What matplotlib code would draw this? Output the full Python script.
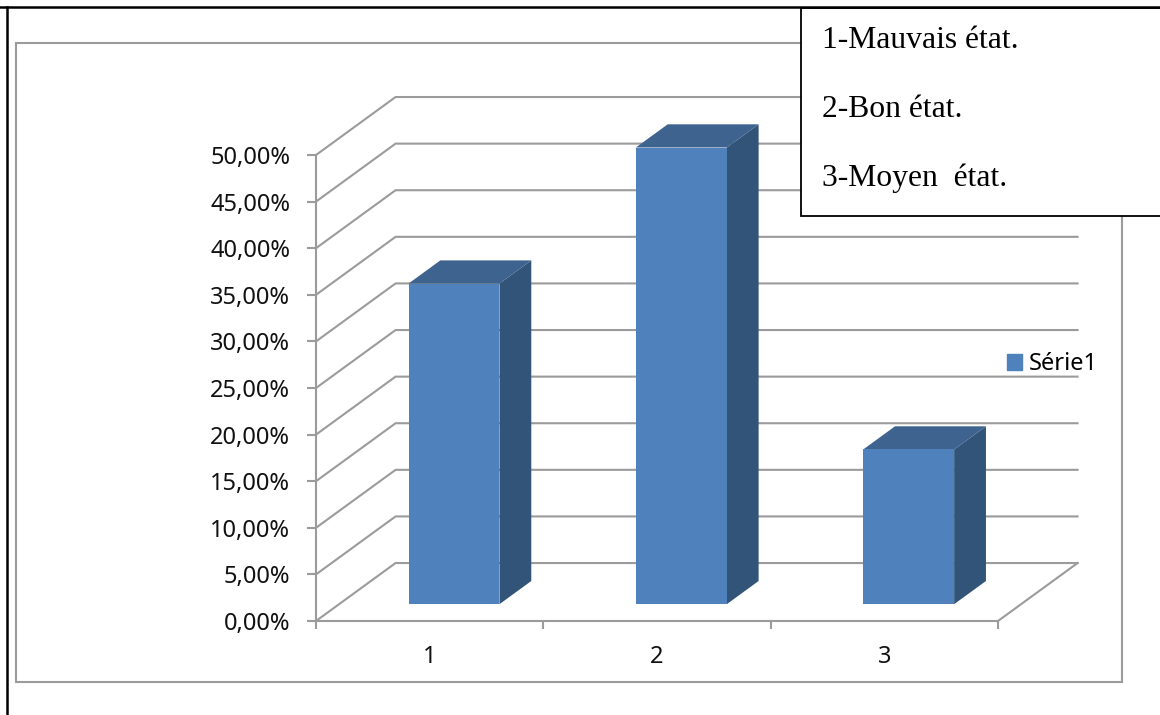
import matplotlib
matplotlib.use("Agg")
import matplotlib.pyplot as plt
from matplotlib.patches import Polygon, Rectangle

W, H = 1160, 715
categories = ["1", "2", "3"]
values = [34.4, 49.0, 16.6]
y_ticks = [0, 5, 10, 15, 20, 25, 30, 35, 40, 45, 50]
y_labels = ["0,00%", "5,00%", "10,00%", "15,00%", "20,00%", "25,00%",
            "30,00%", "35,00%", "40,00%", "45,00%", "50,00%"]
x_positions = [1, 2, 3]
series_name = "Série1"
notes = ["1-Mauvais état.", "2-Bon état.", "3-Moyen  état."]

GRID = "#9b9b9b"
FRONT = "#4f81bd"
SIDE = "#325479"
TOP = "#3e638f"
LW = 1.5

# depth of the fake 3d floor, in data units
DX, DY = 0.35, 6.22
BAR_FRONT, BAR_BACK = 0.29, 0.69
BAR_SHIFT = 0.107
BAR_W = 0.4


def px_box(x0, y0, x1, y1, **kw):
    # rectangle given in image pixels, y going down
    return Rectangle((x0 / W, 1 - y1 / H), (x1 - x0) / W, (y1 - y0) / H,
                     transform=fig.transFigure, **kw)


plt.rcParams["font.family"] = ["Noto Sans", "DejaVu Sans"]
fig = plt.figure(figsize=(W / 100, H / 100), dpi=100)
ax = fig.add_axes([316 / W, 1 - 621 / H, 682 / W, 466 / H])
ax.patch.set_visible(False)
ax.set_xlim(0.5, 3.5)
ax.set_ylim(0, 50)

# walls: each gridline runs back along the side, then along the back wall
xmin, xmax = ax.get_xlim()
for v in y_ticks:
    ax.plot([xmin, xmin + DX, xmax + DX], [v, v + DY, v + DY], color=GRID,
            lw=LW, clip_on=False, zorder=1, solid_joinstyle="miter")
ax.plot([xmax, xmax + DX], [0, DY], color=GRID, lw=LW, clip_on=False, zorder=1)

# bars
for x, v in zip(x_positions, values):
    x0 = x - BAR_W / 2 + BAR_SHIFT
    x1 = x + BAR_W / 2 + BAR_SHIFT
    base = BAR_FRONT * DY
    ox = (BAR_BACK - BAR_FRONT) * DX
    oy = (BAR_BACK - BAR_FRONT) * DY
    ax.add_patch(Polygon([(x1, base), (x1 + ox, base + oy), (x1 + ox, base + v + oy),
                          (x1, base + v)], color=SIDE, lw=0, clip_on=False, zorder=3))
    ax.add_patch(Polygon([(x0, base + v), (x1, base + v), (x1 + ox, base + v + oy),
                          (x0 + ox, base + v + oy)], color=TOP, lw=0, clip_on=False, zorder=3))
    ax.bar(x + BAR_SHIFT, v, width=BAR_W, bottom=base, color=FRONT,
           clip_on=False, zorder=4)

for side in ["top", "right"]:
    ax.spines[side].set_visible(False)
for side in ["left", "bottom"]:
    ax.spines[side].set_color(GRID)
    ax.spines[side].set_linewidth(LW)

ax.set_yticks(y_ticks, y_labels)
ax.set_xticks([0.5, 1.5, 2.5, 3.5], [])
ax.set_xticks(x_positions, categories, minor=True)
ax.tick_params(axis="y", length=6.5, width=LW, color=GRID, pad=12, labelsize=17,
               labelcolor="#111111")
ax.tick_params(axis="x", which="major", length=5.5, width=LW, color=GRID)
ax.tick_params(axis="x", which="minor", length=0, pad=17, labelsize=17,
               labelcolor="#111111")

handle = Rectangle((0, 0), 1, 1, color=FRONT)
ax.legend([handle], [series_name], loc="center left", frameon=False, fontsize=17,
          bbox_to_anchor=(1002 / W, 1 - 364 / H), bbox_transform=fig.transFigure,
          handlelength=0.64, handleheight=0.64, handletextpad=0.28,
          borderpad=0.2, borderaxespad=0)

# outer frames and the pasted note box
fig.add_artist(px_box(16, 43, 1122, 682, fill=False, ec=GRID, lw=LW, zorder=-1))
fig.add_artist(plt.Line2D([0, 1], [1 - 7 / H, 1 - 7 / H], color="black", lw=1.8, zorder=6))
fig.add_artist(plt.Line2D([7 / W, 7 / W], [0, 1 - 7 / H], color="black", lw=1.8, zorder=6))
fig.add_artist(px_box(801, 8, 1175, 216, fc="white", ec="black", lw=1.3, zorder=5))
for txt, base_y in zip(notes, [48, 117, 186]):
    fig.text(822 / W, 1 - base_y / H, txt, family=["Liberation Serif"], fontsize=22.8,
             color="black", ha="left", va="baseline", zorder=7)

fig.savefig("out.png", dpi=100, facecolor="white")
